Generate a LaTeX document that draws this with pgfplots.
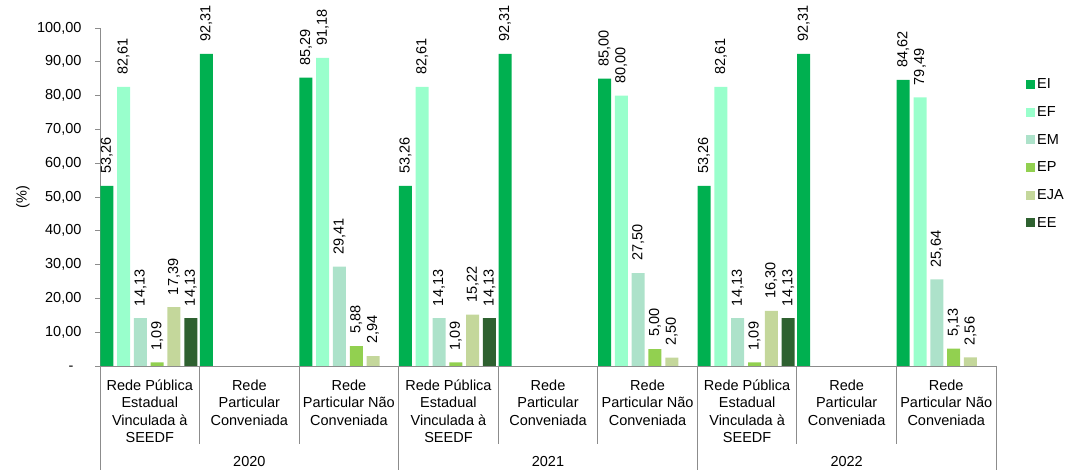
\documentclass[border=0pt]{standalone}
\usepackage{fontspec}
\setmainfont{Liberation Sans}
\usepackage{pgfplots}
\usepackage{pgfplotstable}
\pgfplotsset{compat=1.18}

\definecolor{cEI}{RGB}{0,176,80}
\definecolor{cEF}{RGB}{153,255,204}
\definecolor{cEM}{RGB}{173,226,202}
\definecolor{cEP}{RGB}{146,208,80}
\definecolor{cEJA}{RGB}{196,215,155}
\definecolor{cEE}{RGB}{46,97,48}
\definecolor{axisgray}{RGB}{140,140,140}

% x: 0-2 = 2020, 3-5 = 2021, 6-8 = 2022
% (Pública Estadual, Particular Conveniada, Particular Não Conveniada)
\pgfplotstableread{
x y
0 53.26
1 92.31
2 85.29
3 53.26
4 92.31
5 85.00
6 53.26
7 92.31
8 84.62
}\tabEI
\pgfplotstableread{
x y
0 82.61
2 91.18
3 82.61
5 80.00
6 82.61
8 79.49
}\tabEF
\pgfplotstableread{
x y
0 14.13
2 29.41
3 14.13
5 27.50
6 14.13
8 25.64
}\tabEM
\pgfplotstableread{
x y
0 1.09
2 5.88
3 1.09
5 5.00
6 1.09
8 5.13
}\tabEP
\pgfplotstableread{
x y
0 17.39
2 2.94
3 15.22
5 2.50
6 16.30
8 2.56
}\tabEJA
\pgfplotstableread{
x y
0 14.13
3 14.13
6 14.13
}\tabEE

\newcommand{\chartfont}{\fontsize{14.5}{17.5}\selectfont}

\begin{document}
\begin{tikzpicture}
\path[use as bounding box] (0,0) rectangle (1067pt,470pt);
\begin{axis}[
  at={(100pt,104pt)}, anchor=south west,
  scale only axis, width=896pt, height=338pt,
  xmin=-0.5, xmax=8.5, ymin=0, ymax=100,
  axis lines*=left,
  axis line style={draw=axisgray, line width=0.8pt},
  clip=false,
  font=\chartfont,
  /pgf/number format/assume math mode=true,
  ybar, bar width=13pt,
  ytick={0,10,...,100},
  yticklabels={{-\phantom{0}},{10,00},{20,00},{30,00},{40,00},{50,00},{60,00},{70,00},{80,00},{90,00},{100,00}},
  ytick pos=left,
  ytick style={draw=axisgray, line width=0.8pt},
  tick align=outside,
  major tick length=5pt,
  yticklabel style={font=\chartfont, text=black, xshift=-10pt},
  xtick={0,...,8},
  xtick style={draw=none},
  xticklabels={
    {Rede Pública\\Estadual\\Vinculada à\\SEEDF},
    {Rede\\Particular\\Conveniada},
    {Rede\\Particular Não\\Conveniada},
    {Rede Pública\\Estadual\\Vinculada à\\SEEDF},
    {Rede\\Particular\\Conveniada},
    {Rede\\Particular Não\\Conveniada},
    {Rede Pública\\Estadual\\Vinculada à\\SEEDF},
    {Rede\\Particular\\Conveniada},
    {Rede\\Particular Não\\Conveniada}},
  xticklabel style={font=\chartfont, align=center, text=black, yshift=-5pt},
  ylabel={(\%)},
  ylabel style={at={(axis description cs:-0.086,0.5)}, anchor=center, font=\chartfont},
  nodes near coords={\pgfmathprintnumber[fixed,fixed zerofill,precision=2,use comma,assume math mode=true]{\pgfplotspointmeta}},
  every node near coord/.append style={rotate=90, anchor=west, inner xsep=12pt, font=\chartfont, text=black},
  legend entries={EI,EF,EM,EP,EJA,EE},
  legend cell align=left,
  legend image code/.code={\fill[#1] (0pt,-4.5pt) rectangle (9pt,4.5pt);},
  legend style={at={(axis description cs:1.030,0.862)}, anchor=north west,
    draw=none, fill=none, row sep=12.2pt, font=\chartfont, nodes={inner sep=2pt}},
]
\addplot[fill=cEI, draw=none, bar shift=-43pt] table[x=x,y=y]{\tabEI};
\addplot[fill=cEF, draw=none, bar shift=-26.2pt] table[x=x,y=y]{\tabEF};
\addplot[fill=cEM, draw=none, bar shift=-9.4pt] table[x=x,y=y]{\tabEM};
\addplot[fill=cEP, draw=none, bar shift=7.4pt] table[x=x,y=y]{\tabEP};
\addplot[fill=cEJA, draw=none, bar shift=24.2pt] table[x=x,y=y]{\tabEJA};
\addplot[fill=cEE, draw=none, bar shift=41pt] table[x=x,y=y]{\tabEE};

% separators below the category axis
\pgfplotsinvokeforeach{0.5,1.5,3.5,4.5,6.5,7.5}{
  \draw[axisgray, line width=0.8pt] (axis cs:#1,0) -- ++(0pt,-78pt);
}
\pgfplotsinvokeforeach{-0.5,2.5,5.5,8.5}{
  \draw[axisgray, line width=0.8pt] (axis cs:#1,0) -- ++(0pt,-104pt);
}
\node[font=\chartfont] at (axis cs:1,0) [yshift=-96pt] {2020};
\node[font=\chartfont] at (axis cs:4,0) [yshift=-96pt] {2021};
\node[font=\chartfont] at (axis cs:7,0) [yshift=-96pt] {2022};
\end{axis}
\end{tikzpicture}
\end{document}
